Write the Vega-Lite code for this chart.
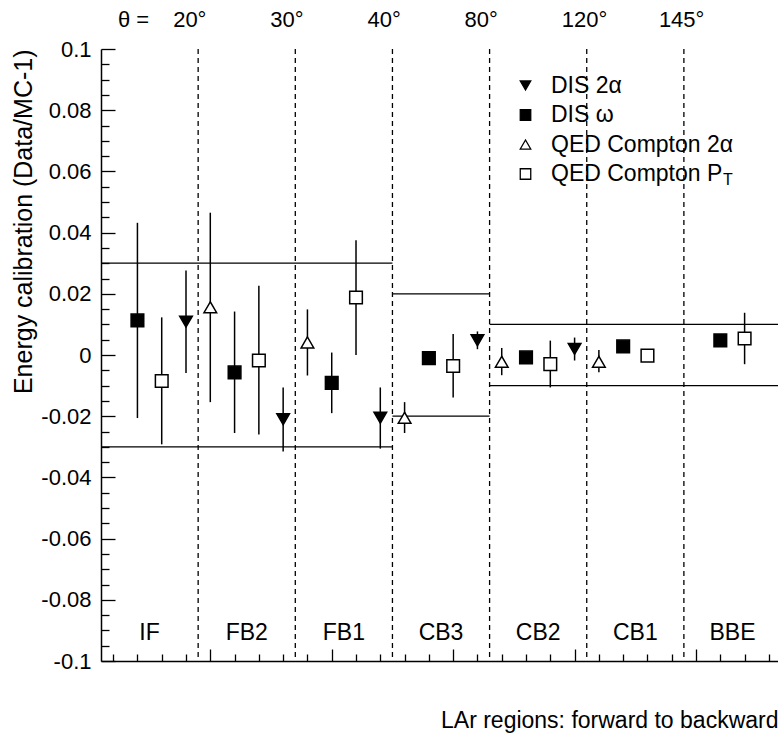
{
  "$schema": "https://vega.github.io/schema/vega-lite/v6.json",
  "width": 677,
  "height": 612,
  "autosize": {"type": "none"},
  "padding": {"left": 101, "top": 49, "right": 0, "bottom": 72},
  "config": {
    "font": "Liberation Sans",
    "view": {"stroke": null},
    "axis": {
      "grid": false,
      "labelColor": "black",
      "titleColor": "black",
      "domainColor": "black",
      "tickColor": "black",
      "titleFontWeight": "normal"
    },
    "legend": {
      "orient": "none", "legendX": 413, "legendY": 25, "title": null, "padding": 0,
      "labelFontSize": 23, "labelColor": "black", "labelOffset": 14, "labelLimit": 0, "rowPadding": 5.5,
      "symbolSize": 110, "symbolStrokeWidth": 1.3
    },
    "text": {"color": "black"}
  },
  "datasets": {
    "points": [
      {"x": 0.4, "series": "DIS ω", "value": 0.0113, "lo": -0.0206, "hi": 0.0432},
      {"x": 0.6, "series": "QED Compton PT", "value": -0.0085, "lo": -0.0292, "hi": 0.0123},
      {"x": 0.8, "series": "DIS 2α", "value": 0.0109, "lo": -0.0059, "hi": 0.0276},
      {"x": 1.0, "series": "QED Compton 2α", "value": 0.0156, "lo": -0.0154, "hi": 0.0465},
      {"x": 1.2, "series": "DIS ω", "value": -0.0057, "lo": -0.0255, "hi": 0.0142},
      {"x": 1.4, "series": "QED Compton PT", "value": -0.0018, "lo": -0.026, "hi": 0.0226},
      {"x": 1.6, "series": "DIS 2α", "value": -0.021, "lo": -0.0315, "hi": -0.0106},
      {"x": 1.8, "series": "QED Compton 2α", "value": 0.0041, "lo": -0.0067, "hi": 0.0149},
      {"x": 2.0, "series": "DIS ω", "value": -0.0091, "lo": -0.019, "hi": 0.0008},
      {"x": 2.2, "series": "QED Compton PT", "value": 0.0188, "lo": 0.0, "hi": 0.0375},
      {"x": 2.4, "series": "DIS 2α", "value": -0.0205, "lo": -0.0306, "hi": -0.0106},
      {"x": 2.6, "series": "QED Compton 2α", "value": -0.0205, "lo": -0.0255, "hi": -0.0154},
      {"x": 2.8, "series": "DIS ω", "value": -0.001, "lo": -0.002, "hi": 0.0},
      {"x": 3.0, "series": "QED Compton PT", "value": -0.0036, "lo": -0.0139, "hi": 0.0069},
      {"x": 3.2, "series": "DIS 2α", "value": 0.0048, "lo": 0.0019, "hi": 0.0077},
      {"x": 3.4, "series": "QED Compton 2α", "value": -0.0022, "lo": -0.0066, "hi": 0.0023},
      {"x": 3.6, "series": "DIS ω", "value": -0.0008, "lo": -0.0018, "hi": 0.0002},
      {"x": 3.8, "series": "QED Compton PT", "value": -0.003, "lo": -0.0106, "hi": 0.0047},
      {"x": 4.0, "series": "DIS 2α", "value": 0.002, "lo": -0.0018, "hi": 0.0057},
      {"x": 4.2, "series": "QED Compton 2α", "value": -0.0022, "lo": -0.0056, "hi": 0.0016},
      {"x": 4.4, "series": "DIS ω", "value": 0.0028, "lo": 0.0018, "hi": 0.0038},
      {"x": 4.6, "series": "QED Compton PT", "value": -0.0002, "lo": -0.0012, "hi": 0.0008},
      {"x": 5.2, "series": "DIS ω", "value": 0.0048, "lo": 0.0038, "hi": 0.0058},
      {"x": 5.4, "series": "QED Compton PT", "value": 0.0054, "lo": -0.003, "hi": 0.0138}
    ],
    "bands": [
      {"x": 0.1, "x2": 2.5, "y": 0.03},
      {"x": 0.1, "x2": 2.5, "y": -0.03},
      {"x": 2.5, "x2": 3.3, "y": 0.02},
      {"x": 2.5, "x2": 3.3, "y": -0.02},
      {"x": 3.3, "x2": 5.7, "y": 0.01},
      {"x": 3.3, "x2": 5.7, "y": -0.01}
    ],
    "boundaries": [
      {"x": 0.9, "angle": "20°"},
      {"x": 1.7, "angle": "30°"},
      {"x": 2.5, "angle": "40°"},
      {"x": 3.3, "angle": "80°"},
      {"x": 4.1, "angle": "120°"},
      {"x": 4.9, "angle": "145°"}
    ],
    "regions": [
      {"x": 0.5, "region": "IF"},
      {"x": 1.3, "region": "FB2"},
      {"x": 2.1, "region": "FB1"},
      {"x": 2.9, "region": "CB3"},
      {"x": 3.7, "region": "CB2"},
      {"x": 4.5, "region": "CB1"},
      {"x": 5.3, "region": "BBE"}
    ],
    "notes": [
      {"note": "θ ="}
    ],
    "subscript": [
      {"note": "T"}
    ]
  },
  "layer": [
    {
      "description": "frame line along the top of the plot",
      "mark": {"type": "rule", "color": "black", "strokeWidth": 2},
      "encoding": {
        "y": {"datum": 0.1, "type": "quantitative", "scale": {"domain": [-0.1, 0.1], "nice": false, "zero": false}, "axis": null}
      }
    },
    {
      "description": "dashed region boundaries",
      "data": {"name": "boundaries"},
      "mark": {"type": "rule", "color": "black", "strokeWidth": 1.3, "strokeDash": [5, 4]},
      "encoding": {
        "x": {"field": "x", "type": "quantitative", "scale": {"domain": [0.1, 5.675], "nice": false, "zero": false}, "axis": null}
      }
    },
    {
      "description": "zero line",
      "mark": {"type": "rule", "color": "black", "strokeWidth": 1.3},
      "encoding": {
        "y": {"datum": 0, "type": "quantitative", "scale": {"domain": [-0.1, 0.1], "nice": false, "zero": false}, "axis": null}
      }
    },
    {
      "description": "systematic uncertainty bands per detector group",
      "data": {"name": "bands"},
      "mark": {"type": "rule", "color": "black", "strokeWidth": 1.3, "clip": true},
      "encoding": {
        "x": {"field": "x", "type": "quantitative", "scale": {"domain": [0.1, 5.675], "nice": false, "zero": false}, "axis": null},
        "x2": {"field": "x2"},
        "y": {"field": "y", "type": "quantitative", "scale": {"domain": [-0.1, 0.1], "nice": false, "zero": false}, "axis": null}
      }
    },
    {
      "description": "error bars, carrying the main axes",
      "data": {"name": "points"},
      "mark": {"type": "rule", "color": "black", "strokeWidth": 1.5},
      "encoding": {
        "x": {
          "field": "x", "type": "quantitative",
          "scale": {"domain": [0.1, 5.675], "nice": false, "zero": false},
          "axis": {
            "orient": "bottom",
            "values": [1, 2, 3, 4, 5],
            "tickSize": -12,
            "tickWidth": 1.3,
            "labels": false,
            "domainWidth": 1.5,
            "title": "LAr regions: forward to backward",
            "titleFontSize": 23,
            "titleAnchor": "end",
            "titleAlign": "right",
            "titleBaseline": "alphabetic",
            "titleX": 677,
            "titleY": 66
          }
        },
        "y": {
          "field": "lo", "type": "quantitative",
          "scale": {"domain": [-0.1, 0.1], "nice": false, "zero": false},
          "axis": {
            "orient": "left",
            "values": [-0.1, -0.08, -0.06, -0.04, -0.02, 0, 0.02, 0.04, 0.06, 0.08, 0.1],
            "tickSize": -14,
            "tickWidth": 1.3,
            "labelFontSize": 22,
            "labelPadding": 24,
            "labelExpr": "datum.value == 0 ? '0' : '' + round(datum.value * 100) / 100",
            "domainWidth": 1.5,
            "title": "Energy calibration (Data/MC-1)",
            "titleFontSize": 25,
            "titleAngle": 270,
            "titleAlign": "right",
            "titleBaseline": "alphabetic",
            "titleX": -70,
            "titleY": 0
          }
        },
        "y2": {"field": "hi"}
      }
    },
    {
      "description": "markers, carrying the minor tick axes and the legend",
      "data": {"name": "points"},
      "mark": {"type": "point", "filled": true, "strokeWidth": 1.5, "opacity": 1, "size": 160},
      "encoding": {
        "x": {
          "field": "x", "type": "quantitative",
          "scale": {"domain": [0.1, 5.675], "nice": false, "zero": false},
          "axis": {
            "orient": "bottom",
            "values": [0.2, 0.4, 0.6, 0.8, 1.2, 1.4, 1.6, 1.8, 2.2, 2.4, 2.6, 2.8, 3.2, 3.4, 3.6, 3.8, 4.2, 4.4, 4.6, 4.8, 5.2, 5.4, 5.6],
            "tickSize": -7,
            "tickWidth": 1.3,
            "labels": false,
            "domain": false,
            "title": null
          }
        },
        "y": {
          "field": "value", "type": "quantitative",
          "scale": {"domain": [-0.1, 0.1], "nice": false, "zero": false},
          "axis": {
            "orient": "left",
            "values": [-0.095, -0.09, -0.085, -0.075, -0.07, -0.065, -0.055, -0.05, -0.045, -0.035, -0.03, -0.025, -0.015, -0.01, -0.005, 0.005, 0.01, 0.015, 0.025, 0.03, 0.035, 0.045, 0.05, 0.055, 0.065, 0.07, 0.075, 0.085, 0.09, 0.095],
            "tickSize": -8,
            "tickWidth": 1.3,
            "labels": false,
            "domain": false,
            "title": null
          }
        },
        "shape": {
          "field": "series", "type": "nominal",
          "scale": {
            "domain": ["DIS 2α", "DIS ω", "QED Compton 2α", "QED Compton PT"],
            "range": ["triangle-down", "square", "triangle-up", "square"]
          },
          "legend": {"labelExpr": "datum.label == 'QED Compton PT' ? 'QED Compton P' : datum.label"}
        },
        "fill": {
          "field": "series", "type": "nominal",
          "scale": {
            "domain": ["DIS 2α", "DIS ω", "QED Compton 2α", "QED Compton PT"],
            "range": ["black", "black", "white", "white"]
          },
          "legend": {"labelExpr": "datum.label == 'QED Compton PT' ? 'QED Compton P' : datum.label"}
        },
        "stroke": {
          "field": "series", "type": "nominal",
          "scale": {
            "domain": ["DIS 2α", "DIS ω", "QED Compton 2α", "QED Compton PT"],
            "range": ["black", "black", "black", "black"]
          },
          "legend": {"labelExpr": "datum.label == 'QED Compton PT' ? 'QED Compton P' : datum.label"}
        }
      }
    },
    {
      "description": "subscript T of the P_T legend entry",
      "data": {"name": "subscript"},
      "mark": {"type": "text", "fontSize": 16, "align": "center", "baseline": "middle"},
      "encoding": {
        "x": {"datum": 5.263, "type": "quantitative", "scale": {"domain": [0.1, 5.675], "nice": false, "zero": false}, "axis": null},
        "y": {"datum": 0.0572, "type": "quantitative", "scale": {"domain": [-0.1, 0.1], "nice": false, "zero": false}, "axis": null},
        "text": {"field": "note"}
      }
    },
    {
      "description": "polar angle at each region boundary",
      "data": {"name": "boundaries"},
      "mark": {"type": "text", "fontSize": 22, "align": "left", "baseline": "alphabetic", "dx": -25},
      "encoding": {
        "x": {"field": "x", "type": "quantitative", "scale": {"domain": [0.1, 5.675], "nice": false, "zero": false}, "axis": null},
        "y": {"datum": 0.1073, "type": "quantitative", "scale": {"domain": [-0.1, 0.1], "nice": false, "zero": false}, "axis": null},
        "text": {"field": "angle"}
      }
    },
    {
      "description": "theta prefix of the angle row",
      "data": {"name": "notes"},
      "mark": {"type": "text", "fontSize": 22, "align": "left", "baseline": "alphabetic"},
      "encoding": {
        "x": {"datum": 0.24, "type": "quantitative", "scale": {"domain": [0.1, 5.675], "nice": false, "zero": false}, "axis": null},
        "y": {"datum": 0.1073, "type": "quantitative", "scale": {"domain": [-0.1, 0.1], "nice": false, "zero": false}, "axis": null},
        "text": {"field": "note"}
      }
    },
    {
      "description": "calorimeter region names",
      "data": {"name": "regions"},
      "mark": {"type": "text", "fontSize": 23, "align": "center", "baseline": "alphabetic"},
      "encoding": {
        "x": {"field": "x", "type": "quantitative", "scale": {"domain": [0.1, 5.675], "nice": false, "zero": false}, "axis": null},
        "y": {"datum": -0.0932, "type": "quantitative", "scale": {"domain": [-0.1, 0.1], "nice": false, "zero": false}, "axis": null},
        "text": {"field": "region"}
      }
    }
  ],
  "resolve": {"axis": {"x": "independent", "y": "independent"}}
}
